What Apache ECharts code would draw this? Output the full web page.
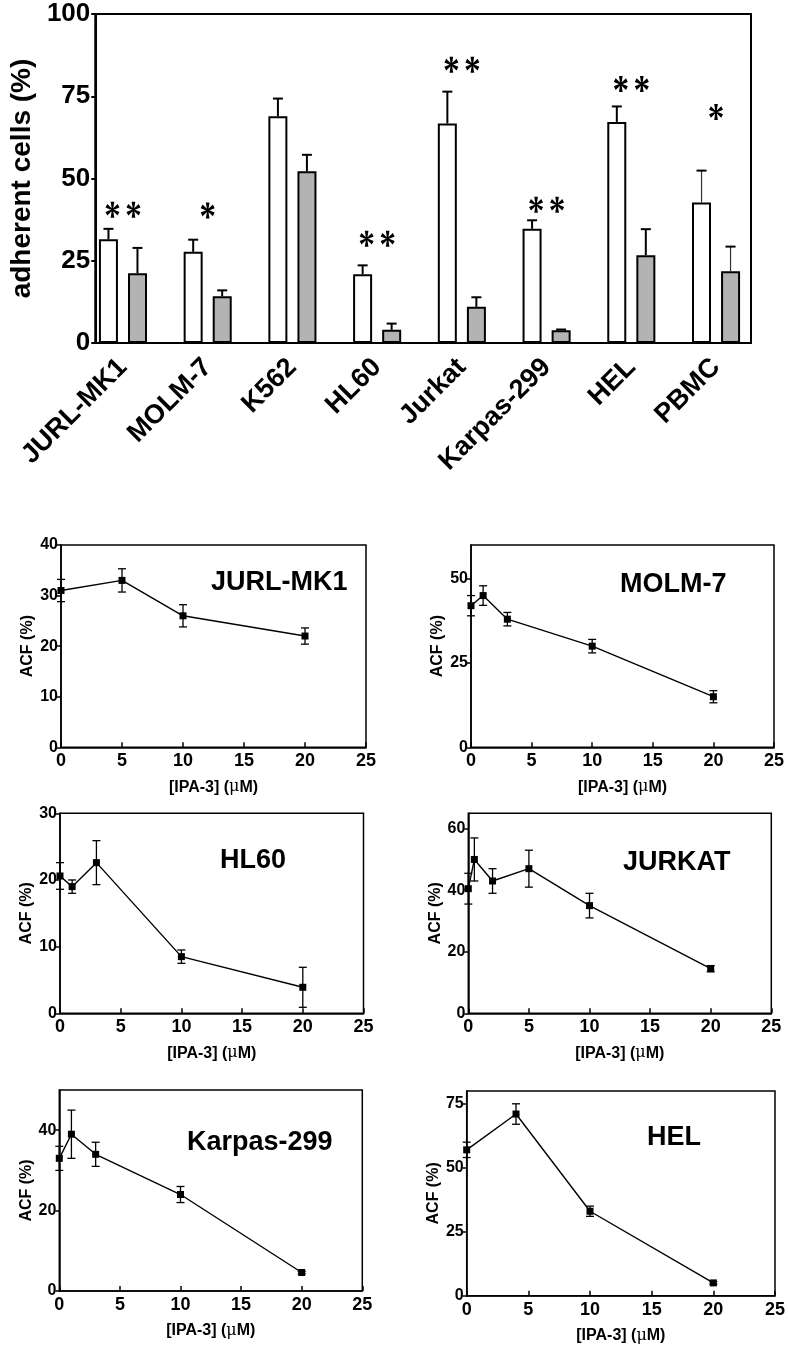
<!DOCTYPE html>
<html><head><meta charset="utf-8">
<script src="https://cdn.jsdelivr.net/npm/echarts@6/dist/echarts.min.js"></script>
<style>html,body{margin:0;padding:0;background:#fff}#main{width:788px;height:1349px}</style>
</head><body><div id="main"></div>
<script>
// ---------- top bar chart data ----------
const cellLines = ['JURL-MK1','MOLM-7','K562','HL60','Jurkat','Karpas-299','HEL','PBMC'];
const controlMean = [31.5, 27.7, 68.9, 20.9, 66.7, 34.7, 67.2, 42.7];
const controlErr  = [3.2, 3.7, 5.4, 2.7, 9.7, 2.6, 4.7, 9.7];
const ipaMean     = [21.2, 14.2, 52.2, 4.0, 11.0, 3.9, 26.7, 21.8];
const ipaErr      = [7.7, 1.8, 5.0, 1.9, 2.9, 0.2, 7.9, 7.5];
const starMarks   = ['**','*','','**','**','**','**','*'];
const starLevel   = [40.5, 40.3, null, 31.7, 84.6, 42.0, 78.7, 70.2];
const barYTicks   = [0, 25, 50, 75, 100];

// ---------- dose-response panels ----------
const panelNames = ['JURL-MK1','MOLM-7','HL60','JURKAT','Karpas-299','HEL'];
const jurlDose = [0, 5, 10, 20];          const jurlACF = [31, 33, 26, 22];             const jurlErr = [2.2, 2.3, 2.2, 1.6];
const molmDose = [0, 1, 3, 10, 20];       const molmACF = [42, 45, 38, 30, 15];         const molmErr = [3, 2.9, 2, 2, 1.8];
const hl60Dose = [0, 1, 3, 10, 20];       const hl60ACF = [20.6, 19, 22.6, 8.5, 3.9];   const hl60Err = [2, 1, 3.3, 1, 3];
const jurkDose = [0, 0.5, 2, 5, 10, 20];  const jurkACF = [40.5, 50, 43, 47, 35, 14.5]; const jurkErr = [5, 7, 4, 6, 4, 1];
const karpDose = [0, 1, 3, 10, 20];       const karpACF = [33, 39, 34, 24, 4.6];        const karpErr = [3, 6, 3, 2, 0.3];
const helDose  = [0, 4, 10, 20];          const helACF  = [57, 71, 33, 5];              const helErr  = [3, 4, 2, 0.5];
const doseTicks = [0, 5, 10, 15, 20, 25];
const panelYMax = [40, 60, 30, 65, 50, 80];
const panelYTicks = [[0,10,20,30,40],[0,25,50],[0,10,20,30],[0,20,40,60],[0,20,40],[0,25,50,75]];
const yAxisTitle = 'ACF (%)';
const barYTitle = 'adherent cells (%)';

const panels = [
  {dose: jurlDose, acf: jurlACF, err: jurlErr},
  {dose: molmDose, acf: molmACF, err: molmErr},
  {dose: hl60Dose, acf: hl60ACF, err: hl60Err},
  {dose: jurkDose, acf: jurkACF, err: jurkErr},
  {dose: karpDose, acf: karpACF, err: karpErr},
  {dose: helDose,  acf: helACF,  err: helErr}
];

// ---------- layout (styles only) ----------
const FONT = '"Liberation Sans", Arial, sans-serif';
const panelRects = [
  {left: 61,    top: 545,    width: 305,   height: 202.3},
  {left: 471,   top: 545,    width: 303,   height: 202.3},
  {left: 60,    top: 813.3,  width: 303.5, height: 200},
  {left: 468.3, top: 813.3,  width: 303,   height: 200},
  {left: 59.3,  top: 1090,   width: 303,   height: 201},
  {left: 466.7, top: 1091,   width: 308.3, height: 204.7}
];
const titlePos = [[211,583],[620,585],[220,861],[623,863],[187,1143],[647,1138]];

function starPathData() {
  let d = '';
  const c = 10, r = 10, w = 2.6, w0 = 0.8;
  for (let k = 0; k < 6; k++) {
    const a = (90 + 60 * k) * Math.PI / 180;
    const ux = Math.cos(a), uy = -Math.sin(a);
    const px = -uy, py = ux;
    const tx = c + r * ux, ty = c + r * uy;
    d += 'M' + (c + w0*px) + ' ' + (c + w0*py) +
         ' L' + (tx + w*px) + ' ' + (ty + w*py) +
         ' L' + (tx - w*px) + ' ' + (ty - w*py) +
         ' L' + (c - w0*px) + ' ' + (c - w0*py) + ' Z ';
  }
  return d;
}
const STAR = starPathData();

const grids = [], xAxes = [], yAxes = [], series = [], graphics = [];

// top chart: frame grid (0) + data grid (1)
grids.push({left: 90, top: 14, width: 661, height: 329, show: true, borderColor: '#000', borderWidth: 2, backgroundColor: 'transparent'});
grids.push({left: 80.6, top: 14, width: 677.8, height: 329, show: false});
xAxes.push({gridIndex: 0, type: 'value', min: 0, max: 1, show: false});
yAxes.push({gridIndex: 0, type: 'value', min: 0, max: 100, interval: 25,
  axisLine: {show: true, lineStyle: {color: '#000', width: 2}},
  axisTick: {show: true, length: 4, lineStyle: {color: '#000', width: 2}},
  axisLabel: {color: '#000', fontSize: 26, fontWeight: 'bold', fontFamily: FONT, margin: 5, customValues: barYTicks},
  splitLine: {show: false},
  name: barYTitle, nameLocation: 'middle', nameGap: 57,
  nameTextStyle: {color: '#000', fontSize: 28, fontWeight: 'bold', fontFamily: FONT}
});
xAxes.push({gridIndex: 1, type: 'category', data: cellLines,
  axisLine: {show: false}, axisTick: {show: false},
  axisLabel: {rotate: 45, interval: 0, color: '#000', fontSize: 27, fontWeight: 'bold', fontFamily: FONT, margin: 20}
});
yAxes.push({gridIndex: 1, type: 'value', min: 0, max: 100, show: false});

series.push({type: 'bar', name: 'control', xAxisIndex: 1, yAxisIndex: 1, data: controlMean,
  barWidth: 19, barGap: '53%', z: 3,
  itemStyle: {color: '#fff', borderColor: '#000', borderWidth: 2}});
series.push({type: 'bar', name: 'IPA-3', xAxisIndex: 1, yAxisIndex: 1, data: ipaMean,
  barWidth: 19, z: 3,
  itemStyle: {color: '#b3b3b3', borderColor: '#000', borderWidth: 2}});

function barErr(means, errs, side) {
  return {type: 'custom', xAxisIndex: 1, yAxisIndex: 1, z: 2,
    data: means.map((m, i) => [i, m, m + errs[i]]),
    encode: {x: 0, y: [1, 2]},
    renderItem(params, api) {
      const i = api.value(0);
      const base = api.coord([i, api.value(1)]);
      const top = api.coord([i, api.value(2)]);
      const x = base[0] + side * 14.5;
      const thin = (i === cellLines.length - 1);
      const style = {stroke: thin ? '#333' : '#000', lineWidth: thin ? 1.2 : 2};
      return {type: 'group', children: [
        {type: 'line', shape: {x1: x, y1: base[1], x2: x, y2: top[1]}, style},
        {type: 'line', shape: {x1: x - 5, y1: top[1], x2: x + 5, y2: top[1]}, style: {stroke: '#000', lineWidth: 2}}
      ]};
    }};
}
series.push(barErr(controlMean, controlErr, -1));
series.push(barErr(ipaMean, ipaErr, 1));

series.push({type: 'custom', xAxisIndex: 1, yAxisIndex: 1, z: 4,
  data: starLevel.map((v, i) => [i, v, starMarks[i].length]).filter(d => d[2] > 0),
  renderItem(params, api) {
    const c = api.coord([api.value(0), api.value(1)]);
    const n = api.value(2);
    const children = [];
    for (let k = 0; k < n; k++) {
      const cx = c[0] + (k - (n - 1) / 2) * 21;
      children.push({type: 'path', shape: {pathData: STAR, x: cx - 7, y: c[1] - 8, width: 14, height: 16, layout: 'cover'}, style: {fill: '#000'}});
    }
    return {type: 'group', children};
  }});

// small panels
panels.forEach((p, k) => {
  const gi = grids.length;
  const r = panelRects[k];
  grids.push(Object.assign({show: true, borderColor: '#000', borderWidth: 1.5, backgroundColor: 'transparent'}, r));
  const xi = xAxes.length, yi = yAxes.length;
  xAxes.push({gridIndex: gi, type: 'value', min: 0, max: 25, interval: 5,
    axisLine: {show: true, lineStyle: {color: '#000', width: 1.5}},
    axisTick: {show: true, inside: true, length: 5, lineStyle: {color: '#000', width: 1.5}},
    axisLabel: {color: '#000', fontSize: 18, fontWeight: 'bold', fontFamily: FONT, margin: 5, customValues: doseTicks},
    splitLine: {show: false},
    name: '[IPA-3] ({mu|μ}M)', nameLocation: 'middle', nameGap: 32,
    nameTextStyle: {color: '#000', fontSize: 16, fontWeight: 'bold', fontFamily: FONT,
      rich: {mu: {color: '#000', fontSize: 16, fontWeight: 'normal', fontFamily: '"DejaVu Serif", serif'}}}
  });
  yAxes.push({gridIndex: gi, type: 'value', min: 0, max: panelYMax[k],
    axisLine: {show: true, lineStyle: {color: '#000', width: 1.5}},
    axisTick: {show: true, length: 4, lineStyle: {color: '#000', width: 1.5}, customValues: panelYTicks[k]},
    axisLabel: {color: '#000', fontSize: 16, fontWeight: 'bold', fontFamily: FONT, margin: 3, customValues: panelYTicks[k]},
    splitLine: {show: false},
    name: yAxisTitle, nameLocation: 'middle', nameGap: 25,
    nameTextStyle: {color: '#000', fontSize: 16, fontWeight: 'bold', fontFamily: FONT}
  });
  series.push({type: 'custom', xAxisIndex: xi, yAxisIndex: yi, z: 2,
    data: p.dose.map((d, i) => [d, p.acf[i] - p.err[i], p.acf[i] + p.err[i]]),
    encode: {x: 0, y: [1, 2]},
    renderItem(params, api) {
      const lo = api.coord([api.value(0), api.value(1)]);
      const hi = api.coord([api.value(0), api.value(2)]);
      const st = {stroke: '#000', lineWidth: 1.3};
      return {type: 'group', children: [
        {type: 'line', shape: {x1: lo[0], y1: lo[1], x2: hi[0], y2: hi[1]}, style: st},
        {type: 'line', shape: {x1: hi[0] - 4, y1: hi[1], x2: hi[0] + 4, y2: hi[1]}, style: st},
        {type: 'line', shape: {x1: lo[0] - 4, y1: lo[1], x2: lo[0] + 4, y2: lo[1]}, style: st}
      ]};
    }});
  series.push({type: 'line', xAxisIndex: xi, yAxisIndex: yi, z: 3,
    data: p.dose.map((d, i) => [d, p.acf[i]]),
    symbol: 'rect', symbolSize: 7, showSymbol: true,
    itemStyle: {color: '#000'}, lineStyle: {color: '#000', width: 1.4}, animation: false});
  graphics.push({type: 'text', x: titlePos[k][0], y: titlePos[k][1],
    style: {text: panelNames[k], fill: '#000', font: 'bold 27px ' + FONT, textVerticalAlign: 'middle', textAlign: 'left'}});
});

const chart = echarts.init(document.getElementById('main'), null, {renderer: 'canvas'});
chart.setOption({
  animation: false,
  backgroundColor: '#fff',
  grid: grids, xAxis: xAxes, yAxis: yAxes, series: series, graphic: graphics
});
</script></body></html>
